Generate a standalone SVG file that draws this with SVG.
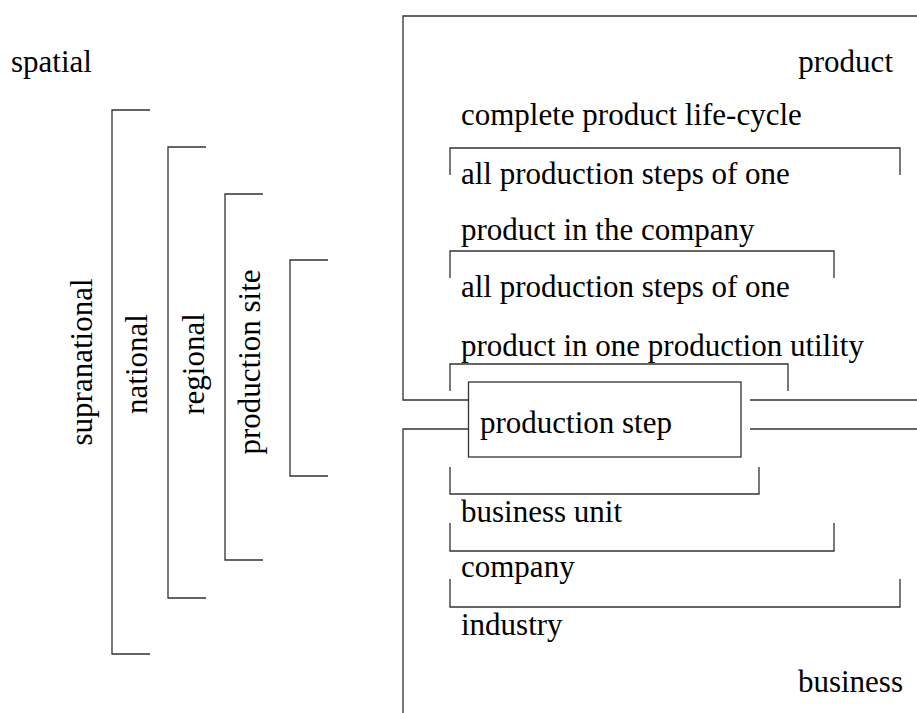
<svg xmlns="http://www.w3.org/2000/svg" width="917" height="713" viewBox="0 0 917 713" font-family="'Liberation Serif', 'Times New Roman', 'DejaVu Serif', serif">
<style>
  text { font-family: 'Liberation Serif', 'Times New Roman', 'DejaVu Serif', serif; font-size: 31px; fill: #000; }
  .ln { fill: none; stroke: #333; stroke-width: 1.3; }
  .box { fill: #fff; stroke: #333; stroke-width: 1.3; }
</style>
<rect width="917" height="713" fill="#fff"/>

<g id="spatial-label"><text x="11" y="72" font-size="30">spatial</text></g>

<g id="supranational">
  <path class="ln" d="M150,110 H112 V654 H150"/>
  <text transform="translate(92,362) rotate(-90)" text-anchor="middle">supranational</text>
</g>
<g id="national">
  <path class="ln" d="M206,147 H168 V598 H206"/>
  <text transform="translate(147,364) rotate(-90)" text-anchor="middle">national</text>
</g>
<g id="regional">
  <path class="ln" d="M263,194 H225 V560 H263"/>
  <text transform="translate(204,364) rotate(-90)" text-anchor="middle">regional</text>
</g>
<g id="production-site">
  <path class="ln" d="M328,260 H290 V476 H328"/>
  <text transform="translate(260,362) rotate(-90)" text-anchor="middle">production site</text>
</g>

<g id="connectors">
  <path class="ln" d="M917,16 H403 V400 H468"/>
  <path class="ln" d="M750,400 H917"/>
  <path class="ln" d="M468,429 H403 V713"/>
  <path class="ln" d="M750,429 H917"/>
</g>

<g id="product-label"><text x="893" y="72" text-anchor="end">product</text></g>

<g id="life-cycle">
  <text x="461" y="125">complete product life-cycle</text>
</g>
<g id="company-steps">
  <path class="ln" d="M450,175 V148 H900 V175"/>
  <text x="461" y="184">all production steps of one</text>
  <text x="461" y="240">product in the company</text>
</g>
<g id="utility-steps">
  <path class="ln" d="M450,278 V251 H834 V278"/>
  <text x="461" y="297">all production steps of one</text>
  <text x="461" y="356">product in one production utility</text>
</g>
<g id="utility-bracket">
  <path class="ln" d="M450,391 V364 H788 V391"/>
</g>

<g id="production-step">
  <rect class="box" x="468.5" y="382" width="272.5" height="75"/>
  <text x="480" y="433">production step</text>
</g>

<g id="business-unit">
  <path class="ln" d="M450,467 V494 H759 V467"/>
  <text x="461" y="522">business unit</text>
</g>
<g id="company">
  <path class="ln" d="M450,523 V551 H834 V523"/>
  <text x="461" y="577">company</text>
</g>
<g id="industry">
  <path class="ln" d="M450,579 V607 H900 V579"/>
  <text x="461" y="635">industry</text>
</g>

<g id="business-label"><text x="903" y="692" text-anchor="end">business</text></g>
</svg>
